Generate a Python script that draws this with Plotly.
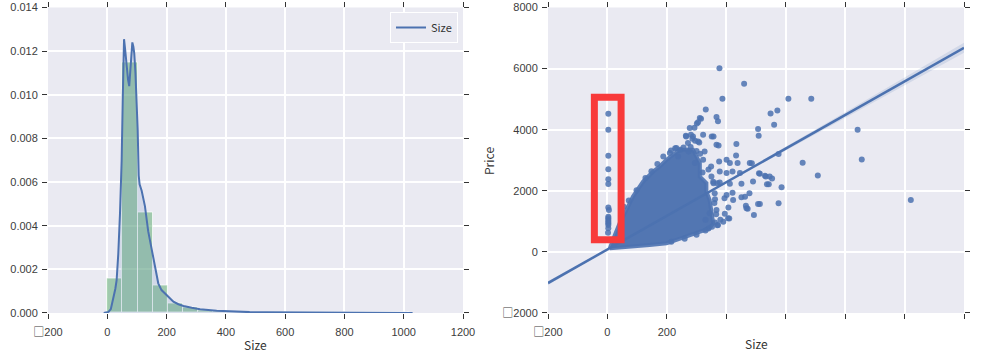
import plotly.graph_objects as go

# ---------------- Left panel: distribution of Size ----------------
bin_edges = [0, 51, 102, 153, 204, 255, 306, 357, 408, 459, 510, 561, 612, 663,
             714, 765, 816, 867, 918, 969, 1020]
bin_density = [0.00157, 0.01150, 0.00459, 0.00124, 0.00042, 0.00025, 0.00011,
               0.00006, 0.00003, 0.00002, 0.00001, 0.000008, 0.000005, 0.000004,
               0.000003, 0.000002, 0.000002, 0.000001, 0.000001, 0.000002]

kde_x = [-12, -4, 4, 12, 20, 27, 31.5, 37, 43, 48.5, 52, 54.5, 56.5, 60, 65, 70,
         74, 77, 80, 84.5, 88, 91, 95, 99, 102.5, 106, 109, 116, 127, 138, 150,
         161, 172, 183, 194, 206, 223, 240, 257, 285, 313, 369, 425, 480, 538,
         650, 760, 870, 980, 1030]
kde_y = [0, 0.00001, 0.00005, 0.00018, 0.0006, 0.0011, 0.0015, 0.0027, 0.0046,
         0.0070, 0.0097, 0.0115, 0.01255, 0.0121, 0.0113, 0.0107, 0.0104, 0.0110,
         0.0120, 0.0124, 0.0122, 0.0119, 0.0110, 0.0097, 0.0084, 0.0063, 0.0059,
         0.0056, 0.0049, 0.00375, 0.0029, 0.0020, 0.00136, 0.00105, 0.0009,
         0.00075, 0.00052, 0.0004, 0.00032, 0.00024, 0.00017, 0.0001, 0.00006,
         0.00004, 0.00003, 0.00002, 0.000015, 0.00001, 0.00001, 0]

BOX = "<span style='font-family:Noto Sans CJK SC'>\u25a1</span>"
left_xticks = [-200, 0, 200, 400, 600, 800, 1000, 1200]
left_xlabels = [BOX + "200", "0", "200", "400", "600", "800", "1000", "1200"]
left_yticks = [0, 0.002, 0.004, 0.006, 0.008, 0.010, 0.012, 0.014]

# ---------------- Right panel: Size vs Price ----------------
# dense core of the cloud (outline)
blob_x = [8, 41, 86, 142, 199, 232, 266, 300, 344, 356, 350, 344, 333, 333, 311,
          311, 288, 243, 221, 199, 176, 154, 120, 86, 64, 41, 25, 13]
blob_y = [115, 140, 150, 223, 279, 388, 496, 608, 772, 936, 1373, 1702, 1975,
          2250, 2467, 2907, 3344, 3344, 3180, 3016, 2796, 2631, 2303, 1810, 1373,
          936, 552, 279]

# houses with Size ~ 0 (highlighted column)
zero_x = [3, 3, 3, 3, 3, 3, 3, 5, 3, 3, 3, 3, 3, 3, 3, 2]
zero_y = [4520, 4000, 3145, 2708, 2380, 2225, 1450, 1375, 1150, 1100, 1045, 990,
          936, 880, 772, 628]

# scattered points outside the dense core
pts_x = [377, 460, 387, 609, 686, 331, 572, 549, 367, 311, 372, 305, 315, 301,
         561, 293, 277, 507, 842, 509, 288, 322, 351, 357, 264, 305, 265, 281,
         286, 295, 309, 367, 374, 434, 271, 228, 245, 273, 210, 238, 327, 312,
         433, 576, 856, 401, 376, 412, 438, 479, 486, 294, 349, 657, 446, 421,
         401, 378, 513, 510, 708, 530, 533, 546, 554, 350, 378, 412, 451, 490,
         537, 543, 586, 361, 401, 423, 451, 463, 478, 1021, 513, 576, 468, 493,
         507, 367, 406, 372, 344, 394, 357, 370, 410, 390, 370, 340, 472, 466,
         407, 421, 395, 380, 330, 360, 320,
         # points on the ragged rim of the dense core
         55, 72, 98, 128, 148, 168, 188, 214, 232, 256, 280, 300, 322, 340,
         356, 362, 366, 362, 352, 330, 300, 260, 215]
pts_y = [6010, 5505, 5010, 5010, 5010, 4658, 4625, 4527, 4419, 4386, 4274, 4242,
         4360, 4206, 4166, 4063, 4057, 4024, 4001, 3804, 3781, 3837, 3781, 3781,
         3804, 3617, 3779, 3833, 3702, 3636, 3581, 3508, 3480, 3531, 3564, 3395,
         3340, 3286, 3236, 3124, 3286, 3209, 3155, 3203, 3026, 3016, 2960, 2907,
         2907, 2907, 2902, 2907, 2793, 2917, 2579, 2631, 2579, 2631, 2556, 2574,
         2500, 2490, 2467, 2467, 2401, 2467, 2270, 2227, 2227, 2303, 2217, 2217,
         2119, 1922, 1866, 1702, 1790, 1807, 1917, 1702, 1570, 1593, 1429, 1209,
         1570, 1373, 1100, 880, 1264, 1752, 2245, 2245, 1095, 986, 876, 767,
         1413, 1511, 1456, 1938, 1250, 1050, 1050, 1600, 2600,
         1480, 1680, 2020, 2420, 2640, 2880, 3120, 3320, 3400, 3420, 3430, 3300,
         3020, 2700, 2300, 1720, 1230, 960, 820, 700, 560, 430, 330]

# regression line and its confidence band
reg_x = [-200, 1200]
reg_y = [-1020, 6680]
band_x = [-200, 0, 200, 400, 600, 800, 1000, 1200]
band_mid = [-1020, 80, 1180, 2280, 3380, 4480, 5580, 6680]
band_half = [60, 20, 15, 30, 60, 90, 125, 165]

right_xticks = [-200, 0, 200, 400, 600, 800, 1000, 1200]
right_xlabels = [BOX + "200", "0", "200", "", "", "", "", ""]
right_yticks = [-2000, 0, 2000, 4000, 6000, 8000]
right_ylabels = [BOX + "2000", "0", "2000", "4000", "6000", "8000"]

BLUE = "#4C72B0"
BG = "#EAEAF2"
FONT = "Noto Sans CJK SC"
TICKFONT = "Liberation Sans"
W, H = 982, 355

fig = go.Figure()

centers = [(bin_edges[i] + bin_edges[i + 1]) / 2 for i in range(len(bin_density))]
widths = [bin_edges[i + 1] - bin_edges[i] for i in range(len(bin_density))]
fig.add_trace(go.Bar(x=centers, y=bin_density, width=widths,
                     marker=dict(color="rgba(85,168,104,0.5)",
                                 line=dict(color="rgba(255,255,255,0.7)", width=1)),
                     showlegend=False, xaxis="x", yaxis="y", hoverinfo="skip"))
fig.add_trace(go.Scatter(x=kde_x, y=kde_y, mode="none",
                         fill="tozeroy", fillcolor="rgba(76,114,176,0.15)",
                         showlegend=False, xaxis="x", yaxis="y", hoverinfo="skip"))
fig.add_trace(go.Scatter(x=kde_x, y=kde_y, mode="lines", name="Size",
                         line=dict(color=BLUE, width=2),
                         xaxis="x", yaxis="y"))

# band
upper = [m + h for m, h in zip(band_mid, band_half)]
lower = [m - h for m, h in zip(band_mid, band_half)]
fig.add_trace(go.Scatter(x=band_x + band_x[::-1], y=upper + lower[::-1],
                         fill="toself", fillcolor="rgba(76,114,176,0.15)",
                         line=dict(width=0), mode="lines", showlegend=False,
                         xaxis="x2", yaxis="y2", hoverinfo="skip"))
fig.add_trace(go.Scatter(x=blob_x + blob_x[:1], y=blob_y + blob_y[:1],
                         fill="toself", fillcolor="rgba(76,114,176,0.97)",
                         line=dict(color="rgba(76,114,176,0.9)", width=4),
                         mode="lines", showlegend=False,
                         xaxis="x2", yaxis="y2", hoverinfo="skip"))
fig.add_trace(go.Scatter(x=pts_x, y=pts_y, mode="markers",
                         marker=dict(color=BLUE, size=6, opacity=0.85),
                         showlegend=False, xaxis="x2", yaxis="y2"))
fig.add_trace(go.Scatter(x=zero_x, y=zero_y, mode="markers",
                         marker=dict(color=BLUE, size=6, opacity=0.85),
                         showlegend=False, xaxis="x2", yaxis="y2"))
fig.add_trace(go.Scatter(x=reg_x, y=reg_y, mode="lines",
                         line=dict(color=BLUE, width=2.5),
                         showlegend=False, xaxis="x2", yaxis="y2"))

ydom = [1 - 313 / H, 1 - 7.5 / H]
tickfont = dict(family=TICKFONT, size=11, color="#3c3c3c")
common = dict(showgrid=True, gridcolor="white", gridwidth=1.5, zeroline=False,
              showline=False, ticks="outside", ticklen=5, tickwidth=1,
              tickcolor="#333333", mirror="ticks", tickfont=tickfont,
              tickmode="array", automargin=False, ticklabeloverflow="allow")

fig.update_layout(
    width=W, height=H,
    margin=dict(l=0, r=0, t=0, b=0),
    paper_bgcolor="white", plot_bgcolor=BG,
    xaxis=dict(domain=[48 / W, 463 / W], range=[-200.01, 1200.01], anchor="y",
               tickvals=left_xticks, ticktext=left_xlabels,
               ticklabelstandoff=4, **common),
    yaxis=dict(domain=ydom, range=[-0.0000005, 0.0140005], anchor="x",
               tickvals=left_yticks, tickformat=".3f",
               ticklabelstandoff=2, **common),
    xaxis2=dict(domain=[548 / W, 964 / W], range=[-200.01, 1200.01], anchor="y2",
                tickvals=right_xticks, ticktext=right_xlabels,
                ticklabelstandoff=4, **common),
    yaxis2=dict(domain=ydom, range=[-2000.3, 8000.3], anchor="x2",
                tickvals=right_yticks, ticktext=right_ylabels,
                ticklabelstandoff=2, **common),
    legend=dict(x=458 / W, xanchor="right", y=1 - 12 / H, yanchor="top",
                bgcolor=BG, bordercolor="white", borderwidth=1,
                font=dict(family=FONT, size=11, color="#333333"), itemwidth=30),
    bargap=0,
    annotations=[
        dict(text="Size", x=255.5 / W, y=1 - 344 / H, xref="paper", yref="paper",
             showarrow=False, font=dict(family=FONT, size=12, color="#333333"),
             xanchor="center", yanchor="middle"),
        dict(text="Size", x=756 / W, y=1 - 343 / H, xref="paper", yref="paper",
             showarrow=False, font=dict(family=FONT, size=12, color="#333333"),
             xanchor="center", yanchor="middle"),
        dict(text="Price", x=488 / W, y=1 - 161 / H, xref="paper", yref="paper",
             showarrow=False, textangle=-90,
             font=dict(family=FONT, size=12, color="#333333"),
             xanchor="center", yanchor="middle"),
    ],
    shapes=[dict(type="rect", xref="x2", yref="y2", x0=-44, x1=46, y0=397,
                 y1=5062, line=dict(color="#F83A3A", width=7), layer="above")],
)

fig.write_html("out.html")
